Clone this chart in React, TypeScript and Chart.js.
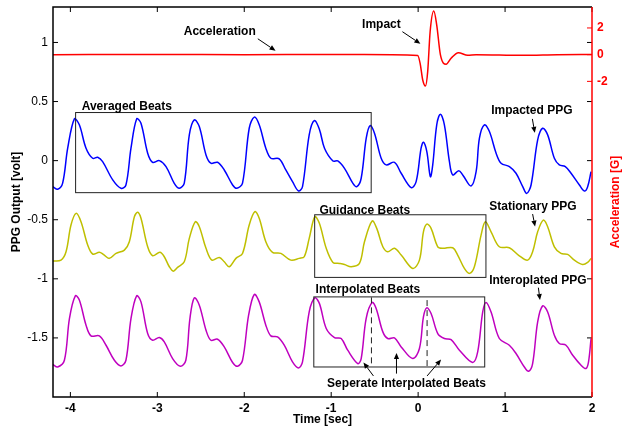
import { useEffect, useRef } from "react";
import { Chart, registerables } from "chart.js";

Chart.register(...registerables);

const FONT = "'Liberation Sans', Arial, Helvetica, sans-serif";

// ---- tick labels ----
const timeTicks = [-4, -3, -2, -1, 0, 1, 2];
const voltTicks = [-1.5, -1, -0.5, 0, 0.5, 1];
const accelTicks = [-2, 0, 2];

// ---- series: [time (sec), value] ----
const impactedPPG: [number, number][] = [
  [-4.203, -0.22], [-4.146, -0.242], [-4.089, -0.19], [-4.031, 0.105], [-3.954, 0.353], [-3.897, 0.303],
  [-3.82, 0.105], [-3.744, 0.02], [-3.686, 0.029], [-3.629, -0.008], [-3.513, -0.163], [-3.418, -0.234],
  [-3.361, -0.206], [-3.303, 0.105], [-3.238, 0.353], [-3.188, 0.317], [-3.111, 0.063], [-3.054, -0.014],
  [-2.977, 0.0], [-2.9, -0.05], [-2.805, -0.192], [-2.747, -0.234], [-2.69, -0.19], [-2.632, 0.218],
  [-2.575, 0.345], [-2.517, 0.288], [-2.44, 0.048], [-2.384, -0.022], [-2.307, -0.014], [-2.23, -0.079],
  [-2.134, -0.206], [-2.085, -0.234], [-2.02, -0.19], [-1.943, 0.274], [-1.885, 0.368], [-1.828, 0.303],
  [-1.752, 0.105], [-1.694, 0.02], [-1.598, 0.015], [-1.522, -0.079], [-1.445, -0.178], [-1.376, -0.257],
  [-1.33, -0.22], [-1.253, 0.218], [-1.195, 0.339], [-1.137, 0.268], [-1.077, 0.105], [-0.98, -0.003],
  [-0.924, -0.003], [-0.847, -0.065], [-0.75, -0.192], [-0.705, -0.22], [-0.655, -0.149], [-0.597, 0.19],
  [-0.552, 0.297], [-0.502, 0.232], [-0.425, 0.02], [-0.368, -0.036], [-0.272, -0.014], [-0.195, -0.107],
  [-0.08, -0.228], [-0.023, -0.178], [0.034, 0.105], [0.061, 0.156], [0.1, 0.076], [0.141, -0.136],
  [0.168, -0.036], [0.214, 0.303], [0.256, 0.393], [0.302, 0.303], [0.36, -0.008], [0.398, -0.121],
  [0.467, -0.085], [0.513, -0.121], [0.609, -0.214], [0.667, -0.093], [0.705, 0.19], [0.762, 0.303],
  [0.82, 0.246], [0.897, 0.063], [0.954, -0.022], [1.05, -0.05], [1.126, -0.107], [1.203, -0.22],
  [1.249, -0.277], [1.299, -0.206], [1.375, 0.175], [1.432, 0.274], [1.49, 0.218], [1.567, 0.02],
  [1.624, -0.036], [1.693, -0.05], [1.759, -0.107], [1.855, -0.206], [1.912, -0.257], [1.95, -0.22],
  [1.989, -0.093],
];

const stationaryPPG: [number, number][] = [
  [-4.203, -0.85], [-4.108, -0.842], [-4.05, -0.771], [-3.993, -0.545], [-3.935, -0.446], [-3.878, -0.517],
  [-3.801, -0.714], [-3.744, -0.79], [-3.667, -0.776], [-3.621, -0.793], [-3.552, -0.827], [-3.475, -0.785],
  [-3.379, -0.757], [-3.322, -0.686], [-3.264, -0.475], [-3.226, -0.437], [-3.188, -0.488], [-3.111, -0.729],
  [-3.054, -0.805], [-2.97, -0.776], [-2.92, -0.813], [-2.862, -0.898], [-2.816, -0.935], [-2.767, -0.903],
  [-2.69, -0.856], [-2.632, -0.658], [-2.563, -0.517], [-2.517, -0.559], [-2.44, -0.742], [-2.372, -0.842],
  [-2.287, -0.819], [-2.23, -0.856], [-2.172, -0.898], [-2.096, -0.827], [-2.02, -0.785], [-1.943, -0.545],
  [-1.878, -0.432], [-1.828, -0.488], [-1.752, -0.686], [-1.675, -0.776], [-1.579, -0.785], [-1.464, -0.842],
  [-1.368, -0.827], [-1.31, -0.813], [-1.253, -0.658], [-1.188, -0.475], [-1.136, -0.53], [-1.057, -0.742],
  [-0.98, -0.861], [-0.905, -0.87], [-0.847, -0.879], [-0.77, -0.898], [-0.675, -0.87], [-0.617, -0.686],
  [-0.529, -0.511], [-0.476, -0.573], [-0.406, -0.729], [-0.35, -0.771], [-0.272, -0.742], [-0.195, -0.799],
  [-0.062, -0.912], [0.015, -0.842], [0.061, -0.602], [0.1, -0.537], [0.149, -0.573], [0.226, -0.729],
  [0.283, -0.742], [0.398, -0.737], [0.455, -0.799], [0.532, -0.912], [0.59, -0.954], [0.647, -0.898],
  [0.724, -0.63], [0.773, -0.517], [0.839, -0.602], [0.934, -0.729], [1.049, -0.737], [1.164, -0.805],
  [1.26, -0.842], [1.317, -0.771], [1.375, -0.602], [1.44, -0.503], [1.49, -0.559], [1.567, -0.729],
  [1.643, -0.785], [1.72, -0.793], [1.797, -0.842], [1.892, -0.879], [1.95, -0.861], [1.989, -0.827],
];

const interpolatedPPG: [number, number][] = [
  [-4.203, -1.725], [-4.146, -1.746], [-4.069, -1.689], [-4.011, -1.336], [-3.943, -1.144], [-3.897, -1.18],
  [-3.82, -1.392], [-3.763, -1.483], [-3.667, -1.483], [-3.59, -1.562], [-3.494, -1.689], [-3.418, -1.737],
  [-3.361, -1.689], [-3.303, -1.336], [-3.238, -1.144], [-3.188, -1.195], [-3.111, -1.463], [-3.054, -1.52],
  [-2.977, -1.497], [-2.92, -1.534], [-2.824, -1.675], [-2.736, -1.74], [-2.672, -1.689], [-2.625, -1.336],
  [-2.575, -1.161], [-2.517, -1.223], [-2.44, -1.435], [-2.384, -1.52], [-2.307, -1.511], [-2.23, -1.576],
  [-2.134, -1.708], [-2.077, -1.74], [-2.02, -1.689], [-1.95, -1.308], [-1.885, -1.132], [-1.828, -1.195],
  [-1.752, -1.392], [-1.694, -1.483], [-1.617, -1.492], [-1.54, -1.562], [-1.445, -1.703], [-1.376, -1.754],
  [-1.33, -1.703], [-1.253, -1.28], [-1.188, -1.161], [-1.135, -1.21], [-1.057, -1.42], [-0.962, -1.497],
  [-0.885, -1.505], [-0.81, -1.604], [-0.694, -1.717], [-0.655, -1.675], [-0.598, -1.336], [-0.529, -1.2],
  [-0.483, -1.251], [-0.406, -1.449], [-0.349, -1.505], [-0.272, -1.5], [-0.195, -1.576], [-0.062, -1.675],
  [0.015, -1.59], [0.061, -1.322], [0.099, -1.246], [0.149, -1.293], [0.226, -1.463], [0.302, -1.505],
  [0.379, -1.514], [0.475, -1.604], [0.628, -1.708], [0.685, -1.619], [0.743, -1.28], [0.781, -1.2],
  [0.839, -1.28], [0.934, -1.505], [1.049, -1.562], [1.126, -1.632], [1.222, -1.746], [1.271, -1.782],
  [1.317, -1.717], [1.375, -1.364], [1.432, -1.229], [1.49, -1.28], [1.567, -1.477], [1.624, -1.547],
  [1.701, -1.562], [1.778, -1.647], [1.874, -1.731], [1.931, -1.759], [1.96, -1.703], [1.989, -1.505],
];

// acceleration in G (right axis)
const acceleration: [number, number][] = [
  [-4.2, 0], [-3.0, 0.01], [-2.0, 0], [-1.0, 0.01], [-0.3, 0], [-0.005, -0.07], [0.023, -0.65],
  [0.053, -1.9], [0.084, -2.35], [0.11, -1.27], [0.138, 1.72], [0.18, 3.27], [0.214, 2.22],
  [0.256, 0], [0.322, -0.72], [0.379, -0.27], [0.463, 0.15], [0.57, -0.05], [0.667, 0],
  [1.2, -0.05], [1.6, 0], [2.0, 0.02],
];

// ---- annotation layout (data coordinates on time / volt axes) ----
const annoBoxes = [
  { x0: -3.94, x1: -0.54, y0: -0.271, y1: 0.407 },
  { x0: -1.19, x1: 0.78, y0: -0.988, y1: -0.458 },
  { x0: -1.2, x1: 0.766, y0: -1.746, y1: -1.153 },
];
const annoDashed = [
  { x: -0.537, y0: -1.746, y1: -1.157 },
  { x: 0.103, y0: -1.746, y1: -1.18 },
];
const annoTexts: { t: string; x: number; y: number; align: CanvasTextAlign }[] = [
  { t: "Acceleration", x: -2.282, y: 1.091, align: "center" },
  { t: "Impact", x: -0.422, y: 1.15, align: "center" },
  { t: "Averaged Beats", x: -3.87, y: 0.455, align: "left" },
  { t: "Impacted PPG", x: 1.308, y: 0.424, align: "center" },
  { t: "Guidance Beats", x: -1.135, y: -0.426, align: "left" },
  { t: "Stationary PPG", x: 1.32, y: -0.39, align: "center" },
  { t: "Interpolated Beats", x: -1.18, y: -1.096, align: "left" },
  { t: "Interoplated PPG", x: 1.377, y: -1.017, align: "center" },
  { t: "Seperate Interpolated Beats", x: -0.134, y: -1.89, align: "center" },
];
const annoArrows = [
  [-1.844, 1.031, -1.64, 0.93],
  [-0.181, 1.091, 0.026, 0.989],
  [1.314, 0.353, 1.342, 0.235],
  [1.317, -0.452, 1.345, -0.558],
  [1.383, -1.075, 1.402, -1.18],
  [-0.514, -1.822, -0.629, -1.708],
  [-0.249, -1.802, -0.249, -1.627],
  [0.103, -1.822, 0.264, -1.683],
];

const toXY = (arr: [number, number][]) => arr.map(([x, y]) => ({ x, y }));

const noPad = (s: any) => {
  s.paddingTop = 0;
  s.paddingBottom = 0;
  s.paddingLeft = 0;
  s.paddingRight = 0;
};

const matlabPlugin = {
  id: "matlabDecor",
  afterDatasetsDraw(chart: any) {
    const { ctx, scales } = chart;
    const X = (v: number) => scales.x.getPixelForValue(v);
    const Y = (v: number) => scales.y.getPixelForValue(v);
    ctx.save();
    ctx.strokeStyle = "#222";
    ctx.lineWidth = 1;
    for (const b of annoBoxes) {
      ctx.strokeRect(X(b.x0), Y(b.y1), X(b.x1) - X(b.x0), Y(b.y0) - Y(b.y1));
    }
    ctx.setLineDash([6, 4]);
    for (const d of annoDashed) {
      ctx.beginPath();
      ctx.moveTo(X(d.x), Y(d.y1));
      ctx.lineTo(X(d.x), Y(d.y0));
      ctx.stroke();
    }
    ctx.setLineDash([]);
    ctx.fillStyle = "#000";
    ctx.strokeStyle = "#000";
    for (const a of annoArrows) {
      const x1 = X(a[0]), y1 = Y(a[1]), x2 = X(a[2]), y2 = Y(a[3]);
      const ang = Math.atan2(y2 - y1, x2 - x1);
      const L = 6, W = 2.6;
      const bx = x2 - L * Math.cos(ang), by = y2 - L * Math.sin(ang);
      ctx.beginPath();
      ctx.moveTo(x1, y1);
      ctx.lineTo(bx, by);
      ctx.stroke();
      ctx.beginPath();
      ctx.moveTo(x2, y2);
      ctx.lineTo(bx + W * Math.sin(ang), by - W * Math.cos(ang));
      ctx.lineTo(bx - W * Math.sin(ang), by + W * Math.cos(ang));
      ctx.closePath();
      ctx.fill();
    }
    ctx.font = `bold 12px ${FONT}`;
    ctx.textBaseline = "middle";
    for (const t of annoTexts) {
      ctx.textAlign = t.align;
      ctx.fillText(t.t, X(t.x), Y(t.y));
    }
    ctx.restore();
  },
  afterDraw(chart: any) {
    const { ctx, chartArea: a, scales } = chart;
    const tl = 5;
    ctx.save();
    ctx.lineWidth = 1.5;
    ctx.strokeStyle = "#000";
    ctx.beginPath();
    ctx.moveTo(a.right, a.top);
    ctx.lineTo(a.left, a.top);
    ctx.lineTo(a.left, a.bottom);
    ctx.lineTo(a.right, a.bottom);
    ctx.stroke();
    ctx.lineWidth = 1;
    ctx.beginPath();
    for (const v of timeTicks) {
      const px = scales.x.getPixelForValue(v);
      ctx.moveTo(px, a.bottom);
      ctx.lineTo(px, a.bottom - tl);
      ctx.moveTo(px, a.top);
      ctx.lineTo(px, a.top + tl);
    }
    for (const v of voltTicks) {
      const py = scales.y.getPixelForValue(v);
      ctx.moveTo(a.left, py);
      ctx.lineTo(a.left + tl, py);
      ctx.moveTo(a.right, py);
      ctx.lineTo(a.right - tl, py);
    }
    ctx.stroke();
    ctx.strokeStyle = "#ff0000";
    ctx.beginPath();
    for (const v of accelTicks) {
      const py = scales.y1.getPixelForValue(v);
      ctx.moveTo(a.right, py);
      ctx.lineTo(a.right - tl, py);
    }
    ctx.stroke();
    ctx.lineWidth = 1.5;
    ctx.beginPath();
    ctx.moveTo(a.right, a.top);
    ctx.lineTo(a.right, a.bottom);
    ctx.stroke();
    ctx.font = `bold 12px ${FONT}`;
    ctx.textAlign = "center";
    ctx.textBaseline = "middle";
    ctx.fillStyle = "#000";
    ctx.fillText("Time [sec]", (a.left + a.right) / 2, 420);
    ctx.save();
    ctx.translate(17, (a.top + a.bottom) / 2);
    ctx.rotate(-Math.PI / 2);
    ctx.fillText("PPG Output [volt]", 0, 0);
    ctx.restore();
    ctx.save();
    ctx.fillStyle = "#ff0000";
    ctx.translate(616, (a.top + a.bottom) / 2);
    ctx.rotate(-Math.PI / 2);
    ctx.fillText("Acceleration [G]", 0, 0);
    ctx.restore();
    ctx.restore();
  },
};

export default function App() {
  const ref = useRef<HTMLCanvasElement>(null);
  useEffect(() => {
    if (!ref.current) return;
    const common = {
      pointRadius: 0,
      borderWidth: 1.5,
      tension: 0.35,
      fill: false,
    };
    const chart = new Chart(ref.current, {
      type: "line",
      data: {
        datasets: [
          { ...common, label: "Stationary PPG", data: toXY(stationaryPPG), borderColor: "#bfbf00", yAxisID: "y" },
          { ...common, label: "Interpolated PPG", data: toXY(interpolatedPPG), borderColor: "#bf00bf", yAxisID: "y" },
          { ...common, label: "Impacted PPG", data: toXY(impactedPPG), borderColor: "#0000ff", yAxisID: "y" },
          { ...common, label: "Acceleration", data: toXY(acceleration), borderColor: "#ff0000", yAxisID: "y1", cubicInterpolationMode: "monotone" },
        ],
      },
      options: {
        responsive: false,
        animation: false,
        events: [],
        layout: { padding: { top: 7, left: 0, right: 0, bottom: 0 } },
        plugins: { legend: { display: false }, tooltip: { enabled: false }, title: { display: false } },
        scales: {
          x: {
            type: "linear",
            min: -4.2,
            max: 2,
            afterBuildTicks: (s: any) => { s.ticks = timeTicks.map((v) => ({ value: v })); },
            afterFit: (s: any) => { s.height = 32; noPad(s); },
            grid: { display: false, drawTicks: false },
            border: { display: false },
            ticks: {
              color: "#000",
              padding: 4,
              maxRotation: 0,
              autoSkip: false,
              font: { family: FONT, size: 12, weight: "bold" },
              callback: (v: any) => String(v),
            },
          },
          y: {
            type: "linear",
            position: "left",
            min: -2,
            max: 1.3,
            afterBuildTicks: (s: any) => { s.ticks = voltTicks.map((v) => ({ value: v })); },
            afterFit: (s: any) => { s.width = 53; noPad(s); },
            grid: { display: false, drawTicks: false },
            border: { display: false },
            ticks: {
              color: "#000",
              padding: 5,
              autoSkip: false,
              font: { family: FONT, size: 12 },
              callback: (v: any) => String(v),
            },
          },
          y1: {
            type: "linear",
            position: "right",
            min: -25.64,
            max: 3.57,
            afterBuildTicks: (s: any) => { s.ticks = accelTicks.map((v) => ({ value: v })); },
            afterFit: (s: any) => { s.width = 30; noPad(s); },
            grid: { display: false, drawTicks: false },
            border: { display: false },
            ticks: {
              color: "#ff0000",
              padding: 5,
              autoSkip: false,
              font: { family: FONT, size: 12, weight: "bold" },
              callback: (v: any) => String(v),
            },
          },
        },
      },
      plugins: [matlabPlugin],
    } as any);
    return () => chart.destroy();
  }, []);
  return (
    <div style={{ position: "fixed", left: 0, top: 0, width: 622, height: 429, background: "#fff" }}>
      <canvas ref={ref} width={622} height={429} style={{ width: 622, height: 429, display: "block" }} />
    </div>
  );
}
